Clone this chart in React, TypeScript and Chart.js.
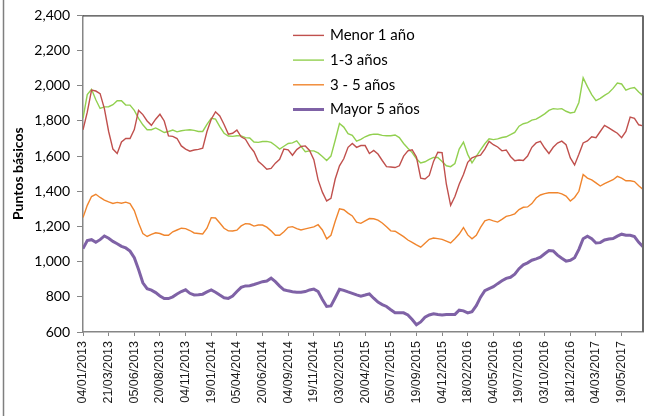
import React, { useEffect, useRef } from "react";
import { Chart, registerables } from "chart.js";

Chart.register(...registerables);

const tickLabels = [
  "04/01/2013", "21/03/2013", "05/06/2013", "20/08/2013", "04/11/2013", "19/01/2014",
  "05/04/2014", "20/06/2014", "04/09/2014", "19/11/2014", "03/02/2015", "20/04/2015",
  "05/07/2015", "19/09/2015", "04/12/2015", "18/02/2016", "04/05/2016", "19/07/2016",
  "03/10/2016", "18/12/2016", "04/03/2017", "19/05/2017",
];
const pointsPerTick = 6;
const lastIndex = 131;

const seriesNames = ["Menor 1 año", "1-3 años", "3 - 5 años", "Mayor 5 años"];

const menor1 = [
  1750, 1850, 1975, 1970, 1955, 1870, 1740, 1640, 1615, 1680, 1700, 1700, 1751, 1860, 1836, 1800,
  1775, 1810, 1838, 1800, 1715, 1712, 1700, 1658, 1640, 1628, 1635, 1638, 1645, 1740, 1810, 1852,
  1828, 1780, 1725, 1730, 1748, 1710, 1696, 1655, 1625, 1570, 1550, 1526, 1530, 1560, 1582, 1640,
  1636, 1605, 1637, 1655, 1658, 1632, 1580, 1465, 1395, 1345, 1360, 1470, 1545, 1585, 1650, 1672,
  1650, 1660, 1660, 1615, 1632, 1612, 1575, 1540, 1538, 1535, 1545, 1600, 1630, 1636, 1595, 1475,
  1470, 1490, 1570, 1622, 1620, 1440, 1320, 1370, 1440, 1495, 1565, 1590, 1600, 1605, 1640, 1684,
  1665, 1652, 1630, 1635, 1598, 1574, 1578, 1575, 1600, 1650, 1675, 1684, 1646, 1615, 1650, 1674,
  1685, 1665, 1590, 1550, 1610, 1675, 1686, 1710, 1705, 1740, 1775, 1760, 1745, 1730, 1705, 1740,
  1822, 1815, 1778, 1772,
];

const uno3 = [
  1815, 1950, 1980, 1920, 1871, 1880, 1881, 1892, 1915, 1915, 1890, 1890, 1860, 1815, 1778, 1750,
  1750, 1760, 1748, 1734, 1740, 1748, 1738, 1744, 1748, 1750, 1746, 1740, 1740, 1780, 1815, 1810,
  1768, 1730, 1714, 1712, 1716, 1715, 1705, 1703, 1680, 1678, 1683, 1684, 1678, 1660, 1640, 1656,
  1672, 1675, 1687, 1655, 1625, 1630, 1630, 1618, 1598, 1575, 1600, 1690, 1785, 1765, 1728, 1718,
  1685, 1695, 1710, 1720, 1725, 1724, 1718, 1716, 1716, 1720, 1705, 1672, 1645, 1620, 1585, 1561,
  1568, 1582, 1593, 1592, 1570, 1545, 1540, 1558, 1640, 1680, 1610, 1562, 1598, 1635, 1670, 1698,
  1694, 1698, 1706, 1710, 1722, 1735, 1770, 1784, 1790, 1805, 1810, 1825, 1840, 1860, 1870, 1867,
  1870, 1855, 1845, 1850, 1905, 2045, 1995, 1950, 1915, 1928, 1945, 1960, 1985, 2015, 2010, 1975,
  1985, 1990, 1965, 1943,
];

const tres5 = [
  1251, 1320, 1370, 1383, 1365, 1350, 1340, 1331, 1337, 1332, 1338, 1330, 1290, 1220, 1160, 1143,
  1155, 1164, 1160, 1150, 1150, 1170, 1180, 1190, 1188, 1177, 1163, 1160, 1157, 1190, 1250, 1248,
  1220, 1190, 1175, 1174, 1179, 1203, 1216, 1214, 1202, 1208, 1208, 1196, 1175, 1150, 1150, 1170,
  1195, 1199, 1188, 1180, 1186, 1192, 1198, 1210, 1180, 1130, 1150, 1230, 1300, 1295, 1276, 1260,
  1225, 1218, 1232, 1245, 1244, 1236, 1220, 1198, 1175, 1173, 1158, 1142, 1123, 1110, 1095, 1082,
  1105, 1127, 1134, 1131, 1127, 1117, 1106, 1130, 1157, 1194, 1152, 1130, 1150, 1195, 1232, 1240,
  1232, 1225, 1240, 1257, 1263, 1272, 1296, 1309, 1311, 1330, 1362, 1379, 1387, 1392, 1392, 1392,
  1385, 1373, 1345, 1365, 1400, 1495, 1475, 1465, 1448, 1430, 1444, 1455, 1466, 1485, 1475, 1460,
  1460, 1455, 1432, 1411,
];

const mayor5 = [
  1074, 1120, 1125, 1110, 1125, 1146, 1133, 1115, 1102, 1087, 1078, 1060, 1022, 955, 880, 846,
  838, 824, 805, 790, 790, 800, 816, 830, 840, 820, 811, 812, 815, 828, 839, 826,
  810, 795, 791, 804, 830, 854, 862, 863, 870, 878, 886, 890, 906, 886, 861, 840,
  834, 829, 826, 826, 830, 839, 844, 830, 785, 745, 748, 795, 843, 837, 828, 820,
  811, 804, 810, 817, 792, 770, 756, 745, 727, 710, 709, 709, 697, 671, 641, 657,
  684, 697, 704, 699, 697, 700, 699, 700, 724, 720, 709, 716, 750, 798, 835, 847,
  858, 875, 891, 905, 911, 929, 960, 982, 993, 1008, 1016, 1025, 1045, 1063, 1061, 1037,
  1019, 1003, 1008, 1022, 1070, 1130, 1145, 1130, 1106, 1108, 1123, 1129, 1131, 1145, 1156, 1150,
  1150, 1143, 1110, 1085,
];

const seriesValues = [menor1, uno3, tres5, mayor5];
const seriesColors = ["#C0504D", "#92D050", "#F0852D", "#7F62A6"];
const seriesWidths = [1.4, 1.4, 1.4, 3];

const yMin = 600;
const yMax = 2400;
const yStep = 200;

const decorPlugin = {
  id: "decor",
  beforeDraw(chart: any) {
    const ctx = chart.ctx;
    ctx.save();
    ctx.fillStyle = "#ffffff";
    ctx.fillRect(0, 0, chart.width, chart.height);
    ctx.strokeStyle = "#7f7f7f";
    ctx.lineWidth = 1.5;
    ctx.beginPath();
    ctx.moveTo(3.5, 0);
    ctx.lineTo(3.5, chart.height);
    ctx.stroke();
    ctx.restore();
  },
  afterDraw(chart: any) {
    const ctx = chart.ctx;
    const { left, top, right, bottom } = chart.chartArea;
    ctx.save();
    ctx.strokeStyle = "#404040";
    ctx.lineWidth = 1.3;
    ctx.beginPath();
    ctx.moveTo(left, top + 0.5);
    ctx.lineTo(right, top + 0.5);
    ctx.stroke();
    ctx.strokeStyle = "#6a6a6a";
    ctx.lineWidth = 2;
    ctx.beginPath();
    ctx.moveTo(right, top);
    ctx.lineTo(right, bottom);
    ctx.stroke();

    ctx.fillStyle = "#000000";
    ctx.font = "bold 14px Lato";
    ctx.textAlign = "center";
    ctx.textBaseline = "middle";
    ctx.translate(18, (top + bottom) / 2);
    ctx.rotate(-Math.PI / 2);
    ctx.fillText("Puntos básicos", 0, 0);
    ctx.setTransform(1, 0, 0, 1, 0, 0);

    const lx = left + 210;
    const ly = top + 20;
    chart.data.datasets.forEach((ds: any, k: number) => {
      const y = ly + k * 24.7;
      ctx.strokeStyle = ds.borderColor;
      ctx.lineWidth = ds.borderWidth;
      ctx.beginPath();
      ctx.moveTo(lx, y);
      ctx.lineTo(lx + 31, y);
      ctx.stroke();
      ctx.fillStyle = "#000000";
      ctx.font = "15px Lato";
      ctx.textAlign = "left";
      ctx.textBaseline = "middle";
      ctx.fillText(ds.label, lx + 37, y);
    });
    ctx.restore();
  },
};

export default function App() {
  const ref = useRef<HTMLCanvasElement | null>(null);

  useEffect(() => {
    document.body.style.margin = "0";
    const canvas = ref.current;
    if (!canvas) return;
    const chart = new Chart(canvas, {
      type: "line",
      data: {
        datasets: seriesValues.map((vals, k) => ({
          label: seriesNames[k],
          data: vals.map((v, i) => ({ x: i, y: v })),
          borderColor: seriesColors[k],
          backgroundColor: seriesColors[k],
          borderWidth: seriesWidths[k],
          pointRadius: 0,
          tension: 0,
          fill: false,
        })),
      },
      options: {
        responsive: false,
        animation: false,
        events: [],
        layout: { padding: { left: 0, top: 13, right: 7, bottom: 0 } },
        plugins: {
          legend: { display: false },
          tooltip: { enabled: false },
          title: { display: false },
        },
        scales: {
          x: {
            type: "linear",
            min: 0,
            max: lastIndex,
            afterBuildTicks: (scale: any) => {
              scale.ticks = tickLabels.map((_, k) => ({ value: k * pointsPerTick }));
            },
            afterFit: (scale: any) => {
              scale.height = 84;
            },
            ticks: {
              autoSkip: false,
              minRotation: 90,
              maxRotation: 90,
              padding: 5,
              color: "#1a1a1a",
              font: { family: "Liberation Sans", size: 12.5 },
              callback: (v: any) => tickLabels[Math.round(Number(v) / pointsPerTick)] ?? "",
            },
            grid: {
              display: true,
              drawOnChartArea: false,
              drawTicks: true,
              tickLength: 4,
              color: "#868686",
              lineWidth: 1,
            },
            border: { display: true, color: "#868686", width: 1.5 },
          },
          y: {
            type: "linear",
            min: yMin,
            max: yMax,
            afterFit: (scale: any) => {
              scale.width = 83;
            },
            ticks: {
              stepSize: yStep,
              padding: 7,
              color: "#000000",
              font: { family: "Lato", size: 14 },
              callback: (v: any) => Number(v).toLocaleString("en-US"),
            },
            grid: {
              display: true,
              drawOnChartArea: false,
              drawTicks: true,
              tickLength: 6,
              color: "#868686",
              lineWidth: 1,
            },
            border: { display: true, color: "#868686", width: 1.5 },
          },
        },
      },
      plugins: [decorPlugin],
    });
    return () => chart.destroy();
  }, []);

  return <canvas ref={ref} width={650} height={416} style={{ display: "block" }} />;
}
